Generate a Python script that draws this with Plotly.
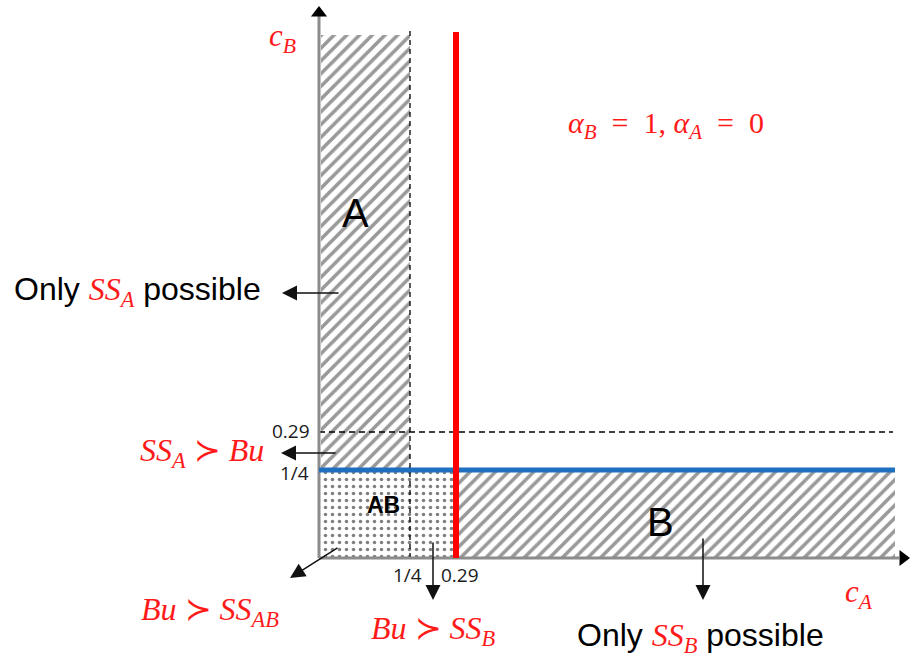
import numpy as np
import plotly.graph_objects as go

# Threshold values on each cost axis and their tick labels
thresholds = [0.25, 0.29]
tick_labels = ["1/4", "0.29"]
c_max = 1.0  # extent of the drawn regions

# Schematic (not-to-scale) placement of the cost values along each axis
def sx(v):
    return float(np.interp(v, [0, 0.25, 0.29, 1.0], [0, 91, 137, 576]))

def sy(v):
    return float(np.interp(v, [0, 0.25, 0.29, 1.0], [0, 88, 126, 523]))

RED = "#ff1a1a"
MATH = "Liberation Serif"
SANS = "Liberation Sans"
TICK = "Open Sans"

fig = go.Figure()

def region(x0, x1, y0, y1, pattern):
    fig.add_trace(go.Scatter(
        x=[x0, x1, x1, x0, x0], y=[y0, y0, y1, y1, y0],
        mode="lines", line=dict(width=0), fill="toself",
        fillcolor="white", fillpattern=pattern, hoverinfo="skip",
        showlegend=False))

hatch = dict(shape="/", size=9, solidity=0.4, fgcolor="#333333", bgcolor="white")
dots = dict(shape=".", size=7, solidity=0.2, fgcolor="#000000", bgcolor="white")

t_lo, t_hi = thresholds
# Region A: cB above 1/4, cA below 1/4
region(sx(0) + 2, sx(t_lo), sy(t_lo), sy(c_max), hatch)
# Region B: cA above 0.29, cB below 1/4
region(sx(t_hi), sx(c_max), sy(0), sy(t_lo), hatch)
# Region AB
region(sx(0), sx(t_hi), sy(0), sy(t_lo), dots)

def seg(x, y, color, width, dash="solid"):
    fig.add_trace(go.Scatter(x=x, y=y, mode="lines",
                             line=dict(color=color, width=width, dash=dash),
                             hoverinfo="skip", showlegend=False))

# dashed guides at the thresholds
seg([sx(t_lo), sx(t_lo)], [sy(0), sy(c_max) + 8], "#000000", 1.3, "5px,4px")
seg([sx(0), sx(c_max) - 2], [sy(t_hi), sy(t_hi)], "#000000", 1.3, "6px,4px")

# axes
seg([sx(0), sx(0)], [sy(0), sy(c_max) + 20], "#8c8c8c", 3)
seg([sx(0), sx(c_max) + 4], [sy(0), sy(0)], "#8c8c8c", 3)
fig.add_trace(go.Scatter(x=[sx(0), sx(c_max) + 8], y=[sy(c_max) + 22, sy(0)],
                         mode="markers",
                         marker=dict(symbol=["triangle-up", "triangle-right"],
                                     size=14, color="black"),
                         hoverinfo="skip", showlegend=False))

# boundaries
seg([sx(0), sx(c_max)], [sy(t_lo), sy(t_lo)], "#1f6fbf", 5)
seg([sx(t_hi), sx(t_hi)], [sy(0), sy(c_max) + 3], "#ff0000", 6)

ann = []

def text(x, y, s, size, color="black", family=SANS, xanchor="center", **kw):
    ann.append(dict(x=x, y=y, text=s, showarrow=False, xanchor=xanchor,
                    font=dict(size=size, color=color, family=family), **kw))

def arrow(x0, y0, x1, y1):
    ann.append(dict(x=x1, y=y1, ax=x0, ay=y0, axref="x", ayref="y",
                    text="", showarrow=True, arrowhead=2, arrowsize=2,
                    arrowwidth=1.5, arrowcolor="#111111"))

# region labels
text(36, 345, "A", 40)
text(341, 36, "B", 40)
text(64, 53, "<b>AB</b>", 23)

# tick labels
text(-7, sy(t_hi) + 1, tick_labels[1], 19, "#1a1a1a", TICK, xanchor="right")
text(-8, sy(t_lo) - 3, tick_labels[0], 19, "#1a1a1a", TICK, xanchor="right")
text(sx(t_lo) - 3, -17, tick_labels[0], 19, "#1a1a1a", TICK)
text(sx(t_hi) + 4, -17, tick_labels[1], 19, "#1a1a1a", TICK)

# axis titles and parameters
text(-37, 520, "<i>c<sub>B</sub></i>", 31, RED, MATH)
text(540, -36, "<i>c<sub>A</sub></i>", 31, RED, MATH)
text(347, 433,
     "<i>α<sub>B</sub></i>&nbsp; = &nbsp;1, <i>α<sub>A</sub></i>&nbsp; = &nbsp;0",
     30, RED, MATH)

# region descriptions
red_ss = lambda sub: f"<span style='font-family:{MATH};color:{RED}'><i>SS<sub>{sub}</sub></i></span>"
text(-182, 267, f"Only {red_ss('A')} possible", 32)
text(381, -79, f"Only {red_ss('B')} possible", 32)
text(-117, 106, "<i>SS<sub>A</sub></i> ≻ <i>Bu</i>", 32, RED, MATH)
text(-109, -53, "<i>Bu</i> ≻ <i>SS<sub>AB</sub></i>", 32, RED, MATH)
text(114, -72, "<i>Bu</i> ≻ <i>SS<sub>B</sub></i>", 32, RED, MATH)

# pointers
arrow(21, 265, -37, 265)
arrow(18, 105, -38, 105)
arrow(20, 11, -29, -20)
arrow(114, 17, 114, -42)
arrow(384, 21, 384, -42)

fig.update_layout(
    width=910, height=663,
    margin=dict(l=0, r=0, t=0, b=0),
    paper_bgcolor="white", plot_bgcolor="white",
    xaxis=dict(range=[-319, 591], visible=False, fixedrange=True),
    yaxis=dict(range=[-105, 558], visible=False, fixedrange=True),
    annotations=ann,
    showlegend=False,
)

fig.write_html("out.html")
